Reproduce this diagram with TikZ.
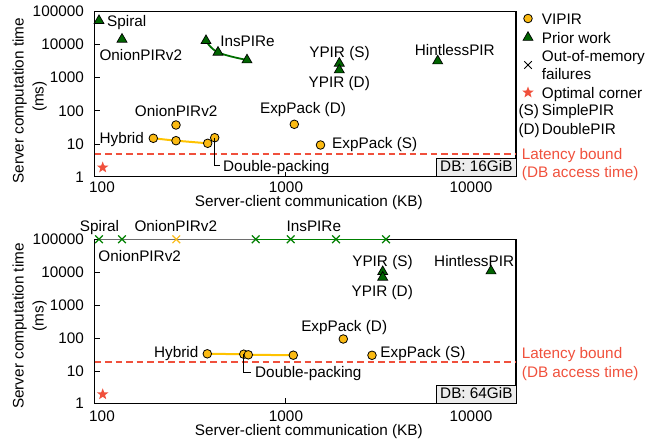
\documentclass[tikz,border=0pt]{standalone}
\usepackage{fontspec}
\setmainfont{Liberation Sans}
\usetikzlibrary{shapes.geometric,shapes.misc}
\definecolor{vip}{RGB}{251,186,18}
\definecolor{vipline}{RGB}{255,195,0}
\definecolor{pgreen}{RGB}{0,100,0}
\definecolor{lgreen}{RGB}{0,110,0}
\definecolor{xgreen}{RGB}{0,128,0}
\definecolor{lat}{RGB}{240,80,60}
\definecolor{dbfill}{RGB}{236,236,236}
\definecolor{gline}{RGB}{110,110,110}
\tikzset{
 txt/.style={font=\fontsize{15.3}{17}\selectfont, inner sep=0pt, text height=11pt, text depth=0pt},
 redtxt/.style={txt, text=lat},
 vipir/.style={circle, draw=black, line width=0.8pt, fill=vip, minimum size=8.6pt, inner sep=0pt},
 prior/.style={regular polygon, regular polygon sides=3, draw=black, line width=0.7pt, fill=pgreen, minimum size=11.5pt, inner sep=0pt},
 oom/.style={cross out, draw=xgreen, line width=1.2pt, minimum size=6.5pt, inner sep=0pt},
 oomy/.style={oom, draw=vip},
 oomk/.style={oom, draw=black, line width=1pt},
 optstar/.style={star, star points=5, star point ratio=2.4, fill=lat, minimum size=12pt, inner sep=0pt},
 frame/.style={draw=black, line width=1.1pt},
 tickmark/.style={draw=black, line width=0.8pt},
 latline/.style={draw=lat, dash pattern=on 6.5pt off 4pt, line width=1.8pt},
 dbbox/.style={txt, draw=black, fill=dbfill, line width=0.8pt, minimum width=79.3pt, minimum height=18.4pt, text height=11pt, text depth=3pt},
 vline/.style={draw=vipline, line width=2pt},
 greenline/.style={draw=lgreen, line width=1.8pt},
 grayline/.style={draw=gline, line width=1.4pt},
 xgline/.style={draw=xgreen, line width=1.4pt},
 callout/.style={draw=black, line width=1pt},
}
\begin{document}
\begin{tikzpicture}[x=1pt,y=-1pt]
\path[use as bounding box] (0,0) rectangle (659,443);

%%%%%%%%%%%%%%%% TOP PLOT
\coordinate (tf1) at (94.5,11.7);
\coordinate (tf2) at (516,176.7);
\draw[frame] (tf1) rectangle (tf2);
% ticks
\foreach \yy in {44.3,77.3,110.7,144} \draw[tickmark] (94.5,\yy) -- ++(5,0);
\foreach \xx in {285,470} \draw[tickmark] (\xx,176.7) -- ++(0,-5);
% tick labels
\node[txt,anchor=east] (ty5) at (84,11.5) {100000};
\node[txt,anchor=east] (ty4) at (84,44.3) {10000};
\node[txt,anchor=east] (ty3) at (84,77.3) {1000};
\node[txt,anchor=east] (ty2) at (84,110.7) {100};
\node[txt,anchor=east] (ty1) at (84,144) {10};
\node[txt,anchor=east] (ty0) at (84,176.7) {1};
\node[txt] (tx1) at (102,186.6) {100};
\node[txt] (tx2) at (286,186.6) {1000};
\node[txt] (tx3) at (471,186.6) {10000};
\node[txt] (txlab) at (308.8,200.8) {Server-client communication (KB)};
\node[txt,rotate=90] (tylab) at (18,100.8) {Server computation time};
\node[txt,rotate=90] (tylab2) at (38,96.7) {(ms)};
% latency line
\coordinate (tl1) at (94.5,154);
\coordinate (tl2) at (516,154);
\draw[latline] (tl1) -- (tl2);
% DB box
\node[dbbox] (tdb) at (476.35,167.5) {DB: 16GiB};
% coordinates
\coordinate (tsp) at (99,20.7);
\coordinate (ton) at (122,39.3);
\coordinate (ti1) at (206,40.7);
\coordinate (ti2) at (218,52.3);
\coordinate (ti3) at (247,60);
\coordinate (tys) at (339.3,63.3);
\coordinate (tyd) at (339.3,70);
\coordinate (thp) at (437.7,61);
\coordinate (tv1) at (153.3,138.3);
\coordinate (tv2) at (176,140.7);
\coordinate (tv3) at (207.7,143.3);
\coordinate (tv4) at (214.7,137.7);
\coordinate (tvo) at (176,125);
\coordinate (ted) at (294.3,124.3);
\coordinate (tes) at (320.5,145);
% lines
\draw[greenline] plot[smooth,tension=0.7] coordinates {(ti1) (ti2) (ti3)};
\draw[vline] (tv1) -- (tv2) -- (tv3) -- (tv4);
% markers
\node[prior] (msp) at (tsp) {};
\node[prior] (mon) at (ton) {};
\node[prior] (mi1) at (ti1) {};
\node[prior] (mi2) at (ti2) {};
\node[prior] (mi3) at (ti3) {};
\node[prior] (mys) at (tys) {};
\node[prior] (myd) at (tyd) {};
\node[prior] (mhp) at (thp) {};
\node[vipir] (mv1) at (tv1) {};
\node[vipir] (mv2) at (tv2) {};
\node[vipir] (mv3) at (tv3) {};
\node[vipir] (mv4) at (tv4) {};
\node[vipir] (mvo) at (tvo) {};
\node[vipir] (med) at (ted) {};
\node[vipir] (mes) at (tes) {};
\node[optstar] (mstar) at (102.7,167.5) {};
% labels
\node[txt,anchor=west] (lsp) at (107,20.7) {Spiral};
\node[txt] (lon) at (140.8,55) {OnionPIRv2};
\node[txt] (lin) at (247.5,40.7) {InsPIRe};
\node[txt] (lys) at (339.5,52.3) {YPIR (S)};
\node[txt] (lyd) at (339.3,81.7) {YPIR (D)};
\node[txt] (lhp) at (454.8,50) {HintlessPIR};
\node[txt] (led) at (303,108.3) {ExpPack (D)};
\node[txt] (lvo) at (176.2,111) {OnionPIRv2};
\node[txt] (lhy) at (121.7,137.7) {Hybrid};
\node[txt] (les) at (374.7,142.7) {ExpPack (S)};
\node[txt,anchor=west] (ldp) at (223,165.7) {Double-packing};
\draw[callout] (mv4.center) |- ([xshift=-3pt]ldp.west);

%%%%%%%%%%%%%%%% LEGEND
\node[vipir] (gv) at (528,18.5) {};
\node[txt,anchor=west] (gvt) at (541.7,19.5) {VIPIR};
\node[prior] (gp) at (528,37.5) {};
\node[txt,anchor=west] (gpt) at (541.7,37.7) {Prior work};
\node[oomk] (go) at (528,65) {};
\node[txt,anchor=west] (got1) at (541.7,55.7) {Out-of-memory};
\node[txt,anchor=west] (got2) at (541.7,74) {failures};
\node[optstar] (gs) at (528,92.5) {};
\node[txt,anchor=west] (gst) at (541.7,92.7) {Optimal corner};
\node[txt,anchor=west] (gS) at (518.3,110.5) {(S)};
\node[txt,anchor=west] (gSt) at (541.7,110.5) {SimplePIR};
\node[txt,anchor=west] (gD) at (518.3,129) {(D)};
\node[txt,anchor=west] (gDt) at (541.7,129) {DoublePIR};
\node[redtxt,anchor=west] (glat1) at (521.7,154) {Latency bound};
\node[redtxt,anchor=west] (glat2) at (521.7,171.7) {(DB access time)};

%%%%%%%%%%%%%%%% BOTTOM PLOT
\coordinate (bf1) at (94.5,239.3);
\coordinate (bf2) at (516,403.5);
\draw[frame] (bf1) rectangle (bf2);
\foreach \yy in {272,305.3,338,371} \draw[tickmark] (94.5,\yy) -- ++(5,0);
\foreach \xx in {285,470} \draw[tickmark] (\xx,403.5) -- ++(0,-5);
\node[txt,anchor=east] (by5) at (84,239.3) {100000};
\node[txt,anchor=east] (by4) at (84,272) {10000};
\node[txt,anchor=east] (by3) at (84,305.3) {1000};
\node[txt,anchor=east] (by2) at (84,338) {100};
\node[txt,anchor=east] (by1) at (84,371) {10};
\node[txt,anchor=east] (by0) at (84,403.5) {1};
\node[txt] (bx1) at (102,416) {100};
\node[txt] (bx2) at (286,416) {1000};
\node[txt] (bx3) at (471,416) {10000};
\node[txt] (bxlab) at (308.8,430) {Server-client communication (KB)};
\node[txt,rotate=90] (bylab) at (18,326) {Server computation time};
\node[txt,rotate=90] (bylab2) at (38,316) {(ms)};
\coordinate (bl1) at (94.5,362);
\coordinate (bl2) at (516,362);
\draw[latline] (bl1) -- (bl2);
\node[dbbox] (bdb) at (476.35,394.2) {DB: 64GiB};
% coordinates
\coordinate (bx1c) at (99,239.3);
\coordinate (bx2c) at (122,239.3);
\coordinate (bx3c) at (176.3,239.3);
\coordinate (bx4c) at (255.7,239.3);
\coordinate (bx5c) at (290.7,239.3);
\coordinate (bx6c) at (336,239.3);
\coordinate (bx7c) at (386,239.3);
\coordinate (bys) at (382.7,271.7);
\coordinate (byd) at (382.7,277.3);
\coordinate (bhp) at (491,271);
\coordinate (bv1) at (207.3,353.8);
\coordinate (bv2) at (243.8,354.2);
\coordinate (bv3) at (248.3,354.8);
\coordinate (bv4) at (293.3,355.2);
\coordinate (bed) at (343.3,339);
\coordinate (bes) at (372,355.3);
% lines
\draw[grayline] (bx1c) -- (bx2c) -- (bx3c) -- (bx4c);
\draw[xgline] (bx4c) -- (bx5c) -- (bx6c) -- (bx7c);
\draw[vline] (bv1) -- (bv2) -- (bv3) -- (bv4);
% markers
\node[oom] (nx1) at (bx1c) {};
\node[oom] (nx2) at (bx2c) {};
\node[oomy] (nx3) at (bx3c) {};
\node[oom] (nx4) at (bx4c) {};
\node[oom] (nx5) at (bx5c) {};
\node[oom] (nx6) at (bx6c) {};
\node[oom] (nx7) at (bx7c) {};
\node[prior] (nys) at (bys) {};
\node[prior] (nyd) at (byd) {};
\node[prior] (nhp) at (bhp) {};
\node[vipir] (nv1) at (bv1) {};
\node[vipir] (nv2) at (bv2) {};
\node[vipir] (nv3) at (bv3) {};
\node[vipir] (nv4) at (bv4) {};
\node[vipir] (ned) at (bed) {};
\node[vipir] (nes) at (bes) {};
\node[optstar] (nstar) at (102.7,394.3) {};
% labels
\node[txt] (bsp) at (99.5,226) {Spiral};
\node[txt] (bon) at (175.8,226) {OnionPIRv2};
\node[txt] (bin) at (313.8,226) {InsPIRe};
\node[txt] (bon2) at (139.7,256) {OnionPIRv2};
\node[txt] (bys2) at (382.5,261) {YPIR (S)};
\node[txt] (byd2) at (382.3,291) {YPIR (D)};
\node[txt] (bhp2) at (474.2,261) {HintlessPIR};
\node[txt] (bed2) at (344.2,326) {ExpPack (D)};
\node[txt] (bes2) at (423,352) {ExpPack (S)};
\node[txt] (bhy) at (176.2,352.3) {Hybrid};
\node[txt,anchor=west] (bdp) at (255,372.5) {Double-packing};
\draw[callout] (nv2.center) |- ([xshift=-4pt]bdp.west);
\node[redtxt,anchor=west] (blat1) at (521.7,353.3) {Latency bound};
\node[redtxt,anchor=west] (blat2) at (521.7,371.7) {(DB access time)};
\end{tikzpicture}
\end{document}
